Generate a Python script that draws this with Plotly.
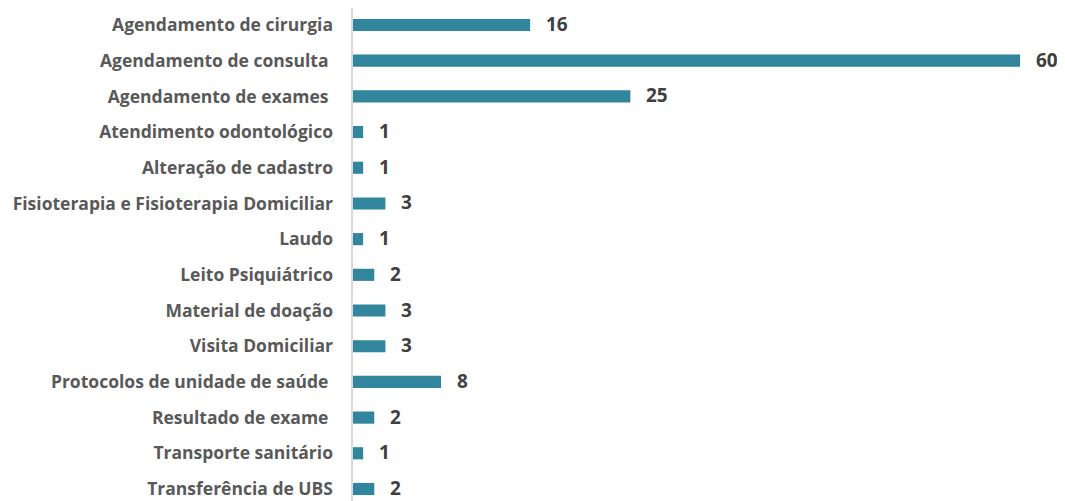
import plotly.graph_objects as go

categories = [
    "Agendamento de cirurgia",
    "Agendamento de consulta\u00a0",
    "Agendamento de exames\u00a0",
    "Atendimento odontológico",
    "Alteração de cadastro",
    "Fisioterapia e Fisioterapia Domiciliar",
    "Laudo",
    "Leito Psiquiátrico",
    "Material de doação",
    "Visita Domiciliar",
    "Protocolos de unidade de saúde\u00a0",
    "Resultado de exame\u00a0",
    "Transporte sanitário",
    "Transferência de UBS",
]
values = [16, 60, 25, 1, 1, 3, 1, 2, 3, 3, 8, 2, 1, 2]

BAR_COLOR = "#31859C"
FONT = "Open Sans"

fig = go.Figure(
    go.Bar(
        y=categories,
        x=values,
        orientation="h",
        marker=dict(color=BAR_COLOR, line=dict(width=0)),
        width=0.34,
        hoverinfo="x+y",
    )
)

for c, v in zip(categories, values):
    fig.add_annotation(
        x=v, y=c, text=f"<b>{v}</b>", showarrow=False,
        xanchor="left", xshift=14, yshift=1,
        font=dict(family=FONT, size=19, color="#404040"),
    )

fig.add_shape(
    type="line", xref="paper", yref="paper",
    x0=0, x1=0, y0=0, y1=1,
    line=dict(color="#D9D9D9", width=2),
)

fig.update_layout(
    width=1057, height=493,
    margin=dict(l=344, r=5, t=0, b=0, autoexpand=False),
    plot_bgcolor="white", paper_bgcolor="white",
    showlegend=False,
    font=dict(family=FONT, color="#595959"),
    xaxis=dict(range=[0, 63.59], visible=False),
    yaxis=dict(
        categoryorder="array", categoryarray=categories,
        range=[13.337, -0.4763],
        showline=False, showgrid=False, zeroline=False,
        ticks="", ticklabelstandoff=18, automargin=False,
        tickfont=dict(family=FONT, size=17.5, color="#595959", weight="bold"),
    ),
)

fig.write_html("out.html")
